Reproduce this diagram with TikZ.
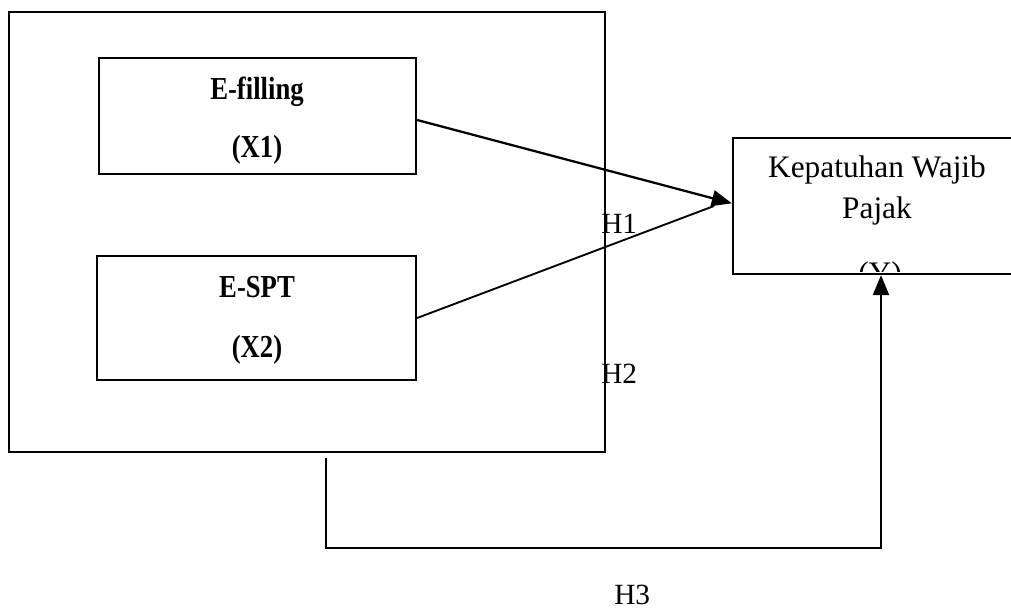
\documentclass[tikz,border=0pt]{standalone}
\usepackage{fontspec}
\setmainfont{Liberation Serif}
\usetikzlibrary{arrows.meta,calc}
\newcommand{\tallbf}[1]{\scalebox{1}[1.2]{\bfseries #1}}
\tikzset{
  box/.style={draw,line width=1.7pt,inner sep=0pt,rectangle},
  lbl/.style={inner sep=0pt,anchor=base,font=\fontsize{20}{24}\selectfont},
  hyp/.style={inner sep=0pt,anchor=base west,font=\fontsize{22}{26}\selectfont},
  ytxt/.style={inner sep=0pt,anchor=base,font=\fontsize{23.5}{28}\selectfont},
  conn/.style={line width=1.7pt},
  tip/.style={-{Triangle[length=15pt,width=12pt]}}
}
\begin{document}
\begin{tikzpicture}[x=0.75pt,y=-0.75pt]
\useasboundingbox (0,0) rectangle (1011,610);
\clip (0,0) rectangle (1011,610);
% outer group box
\node[box,minimum width=447pt,minimum height=330pt] (outer) at (307,232) {};
% E-filling
\node[box,minimum width=237.75pt,minimum height=87pt] (efill) at (257.5,116) {};
\node[lbl] (t1) at (257,99) {\tallbf{E-filling}};
\node[lbl] (t2) at (257,157) {\tallbf{(X1)}};
% E-SPT
\node[box,minimum width=239.25pt,minimum height=93pt] (espt) at (256.5,318) {};
\node[lbl] (t3) at (257,297) {\tallbf{E-SPT}};
\node[lbl] (t4) at (257,357) {\tallbf{(X2)}};
% Y box
\node[box,minimum width=216pt,minimum height=102pt] (ky) at (877,206) {};
\node[ytxt] (t5) at (877,177) {Kepatuhan Wajib};
\node[ytxt] (t6) at (877,218) {Pajak};
\begin{scope}
\clip (740,140) rectangle (1011,271);
\node[ytxt] (t7) at (880,283) {(Y)};
\end{scope}
% hypothesis labels
\node[hyp] (h1) at (601,233) {H1};
\node[hyp] (h2) at (601,383) {H2};
\node[hyp] (h3) at (614,604) {H3};
% connectors
\draw[conn,tip] ([yshift=-3pt]efill.east) -- ([yshift=2pt]ky.west);
\coordinate (e2) at (714,206);
\draw[line width=1.4pt] (espt.east) -- (e2);
\coordinate (s) at (326,458);
\coordinate (corner) at (881,548);
\draw[conn,tip] (s) |- (corner) -- ([xshift=3pt]ky.south);
\end{tikzpicture}
\end{document}
